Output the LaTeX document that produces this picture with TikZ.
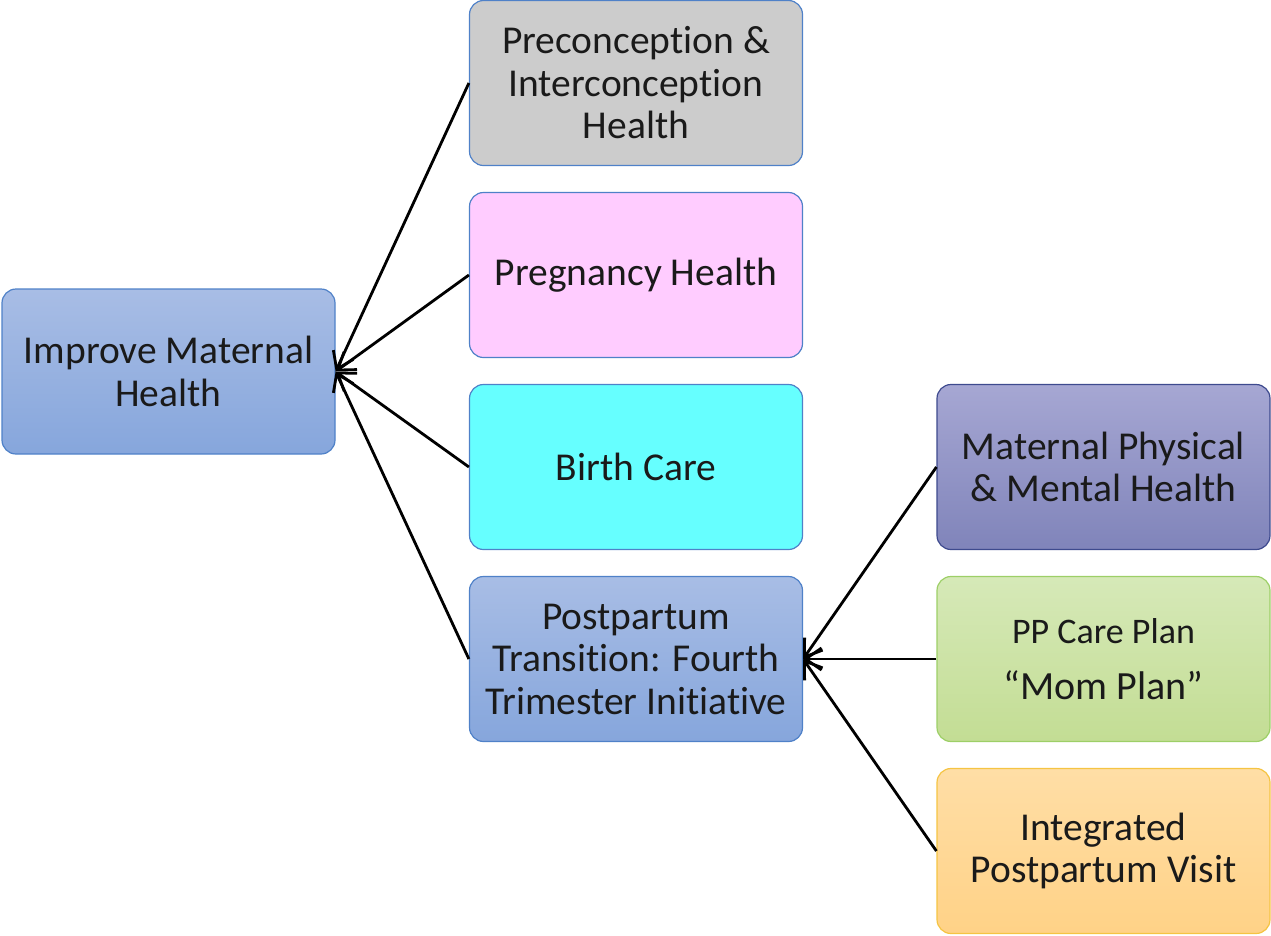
\documentclass[tikz,border=0pt]{standalone}
\usepackage{fontspec}
\setmainfont{Carlito}[Ligatures=NoCommon]
\usetikzlibrary{arrows.meta}
\definecolor{bluetop}{HTML}{A8BDE5}
\definecolor{bluebot}{HTML}{86A6DC}
\definecolor{blueedge}{HTML}{4F81C8}
\definecolor{greyfill}{HTML}{CCCCCC}
\definecolor{pinkfill}{HTML}{FFCCFF}
\definecolor{cyanfill}{HTML}{66FFFF}
\definecolor{purtop}{HTML}{A6A7D3}
\definecolor{purbot}{HTML}{8084BA}
\definecolor{puredge}{HTML}{3E4A8E}
\definecolor{grtop}{HTML}{D6E9B8}
\definecolor{grbot}{HTML}{C3DD94}
\definecolor{gredge}{HTML}{9DCF67}
\definecolor{ortop}{HTML}{FFDEA6}
\definecolor{orbot}{HTML}{FFD287}
\definecolor{oredge}{HTML}{F5C443}
\definecolor{txt}{HTML}{1A1A1A}
\begin{document}
\begin{tikzpicture}[x=1pt,y=1pt,
  box/.style={rounded corners=14pt, minimum width=333pt, minimum height=165pt,
    inner sep=0pt, align=center, text=txt, line width=1.2pt,
    font=\fontsize{39.5}{42.5}\selectfont},
  bluebox/.style={box, draw=blueedge, top color=bluetop, bottom color=bluebot},
  conn/.style={line width=2.8pt, -{Straight Barb[length=16pt,width=22pt]}}
]
\useasboundingbox (0,0) rectangle (1271,-935);
\node[bluebox] (goal) at (168.5,-371.5) {Improve Maternal\\Health};
\node[box, draw=blueedge, fill=greyfill] (pre) at (636,-83) {Preconception \&\\Interconception\\Health};
\node[box, draw=blueedge, fill=pinkfill] (preg) at (636,-275) {Pregnancy Health};
\node[box, draw=blueedge, fill=cyanfill] (birth) at (636,-467) {Birth Care};
\node[bluebox] (pp) at (636,-659) {Postpartum\\Transition: Fourth\\Trimester Initiative};
\node[box, draw=puredge, top color=purtop, bottom color=purbot] (mph) at (1103.5,-467) {Maternal Physical\\\& Mental Health};
\node[box, draw=gredge, top color=grtop, bottom color=grbot] (plan) at (1103.5,-659)
  {{\fontsize{36}{42}\selectfont PP Care Plan}\\[14pt]{\fontsize{40}{42}\selectfont “Mom Plan”}};
\node[box, draw=oredge, top color=ortop, bottom color=orbot] (visit) at (1103.5,-851) {Integrated\\Postpartum Visit};
\draw[conn] (pre.west) -- (goal.east);
\draw[conn] (preg.west) -- (goal.east);
\draw[conn] (birth.west) -- (goal.east);
\draw[conn] (pp.west) -- (goal.east);
\draw[conn] (mph.west) -- (pp.east);
\draw[conn] (plan.west) -- (pp.east);
\draw[conn] (visit.west) -- (pp.east);
\end{tikzpicture}
\end{document}
